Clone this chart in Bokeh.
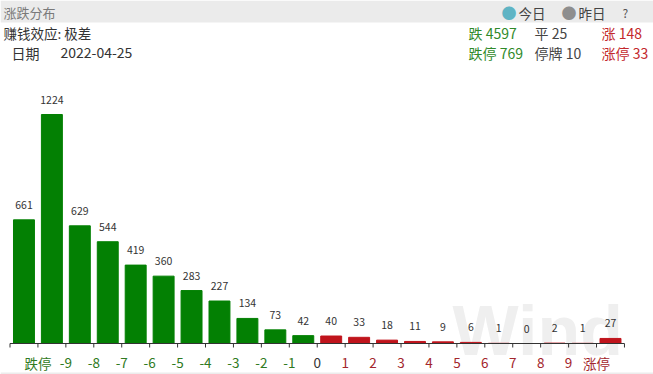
import math
from bokeh.plotting import figure
from bokeh.models import ColumnDataSource, Range1d, Label, BoxAnnotation
from bokeh.core.properties import value
from bokeh.embed import file_html
from bokeh.resources import INLINE

# ---- data ----
bar_values = [661, 1224, 629, 544, 419, 360, 283, 227, 134, 73, 42,
              40, 33, 18, 11, 9, 6, 1, 0, 2, 1, 27]
bar_side = ["down"] * 11 + ["up"] * 11
tick_labels = ["跌停", "-9", "-8", "-7", "-6", "-5", "-4", "-3", "-2", "-1", "0",
               "1", "2", "3", "4", "5", "6", "7", "8", "9", "涨停"]
tick_side = ["down"] * 10 + ["flat"] + ["up"] * 10
stats_row1 = [("跌 4597", "down"), ("平 25", "flat"), ("涨 148", "up")]
stats_row2 = [("跌停 769", "down"), ("停牌 10", "flat"), ("涨停 33", "up")]
title = "涨跌分布"
effect = "赚钱效应: 极差"
date_label = "日期"
date_value = "2022-04-25"

FONT = "Noto Sans CJK SC"
W, H = 653, 374
BAR_COLORS = {"down": "#038003", "up": "#c0141c"}
TICK_COLORS = {"down": "#2f7a22", "flat": "#333333", "up": "#a3262c"}
STAT_COLORS = {"down": "#2f8a2a", "flat": "#444444", "up": "#c3282c"}

n = len(bar_values)
px_per_cat = 27.93
left_px = 9.5
axis_px = 343
px_per_unit = 229 / 1224
x0 = -left_px / px_per_cat
x1 = x0 + W / px_per_cat
y0 = -(H - axis_px) / px_per_unit
y1 = axis_px / px_per_unit

p = figure(width=W, height=H, output_backend="svg", toolbar_location=None,
           x_axis_location=None, y_axis_location=None,
           x_range=Range1d(x0, x1), y_range=Range1d(y0, y1),
           min_border=0, min_border_left=0, min_border_right=0,
           min_border_top=0, min_border_bottom=0)
p.grid.visible = False
p.outline_line_color = None
p.background_fill_color = "white"
p.border_fill_color = "white"

# header band and bottom strip
p.add_layout(BoxAnnotation(top=H, bottom=H - 22, left=0, right=W,
                           top_units="screen", bottom_units="screen",
                           left_units="screen", right_units="screen",
                           fill_color="#ebebeb", fill_alpha=1, line_color=None,
                           level="underlay"))
p.add_layout(BoxAnnotation(top=2, bottom=0, left=0, right=W,
                           top_units="screen", bottom_units="screen",
                           left_units="screen", right_units="screen",
                           fill_color="#ececec", fill_alpha=1, line_color=None,
                           level="underlay"))

# watermark
p.add_layout(Label(x=452, y=H - 330, x_units="screen", y_units="screen", text="Wind",
                   text_font="Liberation Sans", text_font_size="70px",
                   text_font_style="bold", text_color="#efefef",
                   text_baseline="middle", level="underlay"))

# bars
src = ColumnDataSource(dict(
    x=[i + 0.5 for i in range(n)],
    top=bar_values,
    color=[BAR_COLORS[s] for s in bar_side],
    label=[str(v) for v in bar_values],
))
p.vbar(x="x", top="top", bottom=0, width=0.75, color="color", source=src)
p.text(x="x", y="top", text="label", source=src, y_offset=-15,
       text_font=value(FONT), text_font_size="10.5px", text_color="#333333",
       text_align="center", text_baseline="middle")

# axis line + ticks
p.segment(x0=[0], y0=[0], x1=[n], y1=[0], line_color="#333333", line_width=1)
p.ray(x=list(range(n + 1)), y=[0] * (n + 1), length=4, angle=-math.pi / 2,
      length_units="screen", line_color="#333333", line_width=1)

tsrc = ColumnDataSource(dict(
    x=list(range(1, len(tick_labels) + 1)),
    y=[0] * len(tick_labels),
    text=tick_labels,
    color=[TICK_COLORS[s] for s in tick_side],
))
p.text(x="x", y="y", text="text", source=tsrc, y_offset=19,
       text_font=value(FONT), text_font_size="13.5px", text_color="color",
       text_align="center", text_baseline="middle")

def lab(x, ytop, text, color, size="13px"):
    p.add_layout(Label(x=x, y=H - ytop, x_units="screen", y_units="screen",
                       text=text, text_font=FONT, text_font_size=size,
                       text_color=color, text_baseline="middle"))

lab(3, 12, title, "#7a7a7a")
lab(3, 32, effect, "#333333", "13.5px")
lab(11, 52, date_label, "#333333", "14px")
lab(60, 52, date_value, "#333333", "14px")

# legend-like header items
lab(501, 12, "●", "#5fb4c4", "15px")
lab(518, 12, "今日", "#444444", "13.5px")
lab(561, 12, "●", "#8e8e8e", "15px")
lab(578, 12, "昨日", "#444444", "13.5px")
lab(622, 12, "?", "#555555", "12px")

xs = [468, 534, 601]
for (t, s), x in zip(stats_row1, xs):
    lab(x, 32, t, STAT_COLORS[s], "14px")
for (t, s), x in zip(stats_row2, xs):
    lab(x, 52, t, STAT_COLORS[s], "14px")

open("out.html", "w").write(file_html(p, INLINE))
